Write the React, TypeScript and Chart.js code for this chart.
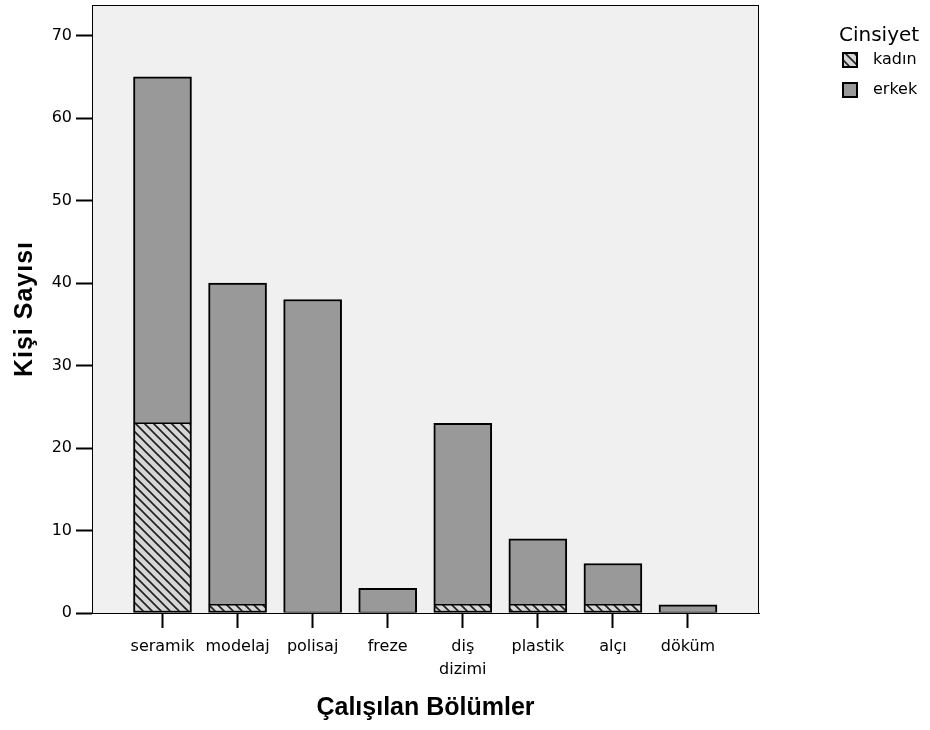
import React, { useEffect, useRef } from "react";
import { Chart, registerables } from "chart.js";

Chart.register(...registerables);

const categories: string[][] = [
  ["seramik"],
  ["modelaj"],
  ["polisaj"],
  ["freze"],
  ["diş", "dizimi"],
  ["plastik"],
  ["alçı"],
  ["döküm"],
];
const kadinValues = [23, 1, 0, 0, 1, 1, 1, 0];
const erkekValues = [42, 39, 38, 3, 22, 8, 5, 1];
const yTickValues = [0, 10, 20, 30, 40, 50, 60, 70];
const seriesNames = ["kadın", "erkek"];
const legendTitle = "Cinsiyet";
const xTitle = "Çalışılan Bölümler";
const yTitle = "Kişi Sayısı";

const TICK_FONT = "'DejaVu Sans', sans-serif";
const TITLE_FONT = "'Liberation Sans', Arial, sans-serif";

function makeHatch(): CanvasPattern {
  const c = document.createElement("canvas");
  c.width = 9;
  c.height = 9;
  const x = c.getContext("2d")!;
  x.fillStyle = "#d6d6d6";
  x.fillRect(0, 0, 9, 9);
  x.strokeStyle = "#222";
  x.lineWidth = 1.7;
  for (const o of [-9, 0, 9]) {
    x.beginPath();
    x.moveTo(o - 1, -1);
    x.lineTo(o + 10, 10);
    x.stroke();
  }
  return x.createPattern(c, "repeat")!;
}

export default function App() {
  const ref = useRef<HTMLCanvasElement | null>(null);

  useEffect(() => {
    if (!ref.current) return;
    const hatch = makeHatch();
    const erkekColor = "#999999";

    const framePlugin = {
      id: "frame",
      beforeDraw(chart: any) {
        const { ctx, chartArea: a } = chart;
        ctx.save();
        ctx.fillStyle = "#f0f0f0";
        ctx.fillRect(a.left, a.top, a.right - a.left, a.bottom - a.top);
        ctx.restore();
      },
      afterDraw(chart: any) {
        const { ctx, chartArea: a } = chart;
        ctx.save();
        ctx.strokeStyle = "#000";
        ctx.lineWidth = 1;
        ctx.strokeRect(a.left + 0.5, a.top + 0.5, a.right - a.left - 1, a.bottom - a.top);
        // axis titles
        ctx.fillStyle = "#000";
        ctx.font = `bold 25px ${TITLE_FONT}`;
        ctx.textAlign = "center";
        ctx.textBaseline = "alphabetic";
        ctx.fillText(xTitle, (a.left + a.right) / 2, 715);
        ctx.save();
        ctx.translate(32, (a.top + a.bottom) / 2);
        ctx.rotate(-Math.PI / 2);
        (ctx as any).letterSpacing = "1px";
        ctx.fillText(yTitle, 0, 0);
        ctx.restore();
        // legend
        ctx.textAlign = "left";
        ctx.font = `20px ${TICK_FONT}`;
        ctx.fillText(legendTitle, 839, 41);
        ctx.font = `16px ${TICK_FONT}`;
        ctx.textBaseline = "middle";
        const fills = [hatch, erkekColor];
        seriesNames.forEach((name, i) => {
          const y = 53 + i * 30;
          ctx.fillStyle = fills[i] as any;
          ctx.fillRect(843, y, 14, 14);
          ctx.strokeStyle = "#000";
          ctx.lineWidth = 2;
          ctx.strokeRect(843, y, 14, 14);
          ctx.fillStyle = "#000";
          ctx.fillText(name, 873, y + 7);
        });
        ctx.restore();
      },
    };

    const chart = new Chart(ref.current, {
      type: "bar",
      data: {
        datasets: [
          {
            label: seriesNames[0],
            data: kadinValues.map((v, i) => ({ x: i, y: v })),
            backgroundColor: hatch as any,
            borderColor: "#000",
            borderWidth: { top: 1, left: 2, right: 2, bottom: 2 },
            borderSkipped: false,
            barThickness: 58,
          },
          {
            label: seriesNames[1],
            data: erkekValues.map((v, i) => ({ x: i, y: v })),
            backgroundColor: erkekColor,
            borderColor: "#000",
            borderWidth: { top: 2, left: 2, right: 2, bottom: 1 },
            borderSkipped: false,
            barThickness: 58,
          },
        ],
      },
      options: {
        animation: false,
        responsive: false,
        events: [],
        layout: { padding: { top: 5, right: 171, bottom: 0, left: 0 } },
        plugins: { legend: { display: false }, tooltip: { enabled: false } },
        scales: {
          x: {
            type: "linear",
            stacked: true,
            offset: false,
            min: -0.939,
            max: 7.946,
            afterBuildTicks: (s: any) => {
              s.ticks = categories.map((_, i) => ({ value: i }));
            },
            afterFit: (s: any) => {
              s.height = 117;
              s.paddingLeft = 0;
              s.paddingRight = 0;
            },
            grid: {
              offset: false,
              drawOnChartArea: false,
              drawTicks: true,
              tickLength: 15,
              tickWidth: 2,
              tickColor: "#000",
            },
            border: { display: true, color: "#000", width: 1 },
            ticks: {
              autoSkip: false,
              maxRotation: 0,
              minRotation: 0,
              padding: 7,
              color: "#000",
              font: { family: TICK_FONT, size: 16, lineHeight: 1.45 },
              callback: (_v: any, idx: number) => categories[idx],
            },
          },
          y: {
            type: "linear",
            stacked: true,
            min: 0,
            max: 73.7,
            afterBuildTicks: (s: any) => {
              s.ticks = yTickValues.map((v) => ({ value: v }));
            },
            afterFit: (s: any) => {
              s.width = 92;
              s.paddingTop = 0;
              s.paddingBottom = 0;
            },
            grid: {
              drawOnChartArea: false,
              drawTicks: true,
              tickLength: 16,
              tickWidth: 2,
              tickColor: "#000",
            },
            border: { display: true, color: "#000", width: 1 },
            ticks: {
              padding: 4,
              color: "#000",
              font: { family: TICK_FONT, size: 16 },
            },
          },
        },
      },
      plugins: [framePlugin],
    } as any);

    return () => chart.destroy();
  }, []);

  return (
    <div style={{ position: "absolute", left: 0, top: 0, width: 930, height: 730 }}>
      <canvas ref={ref} width={930} height={730} style={{ display: "block" }} />
    </div>
  );
}
